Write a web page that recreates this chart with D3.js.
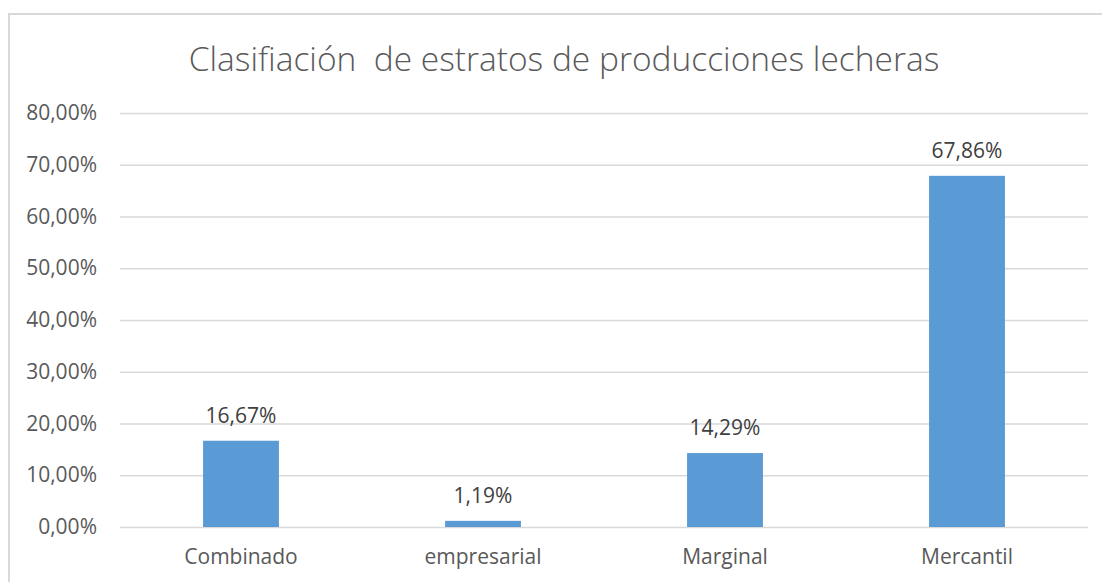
<!DOCTYPE html>
<html>
<head>
<meta charset="utf-8">
<script src="https://cdn.jsdelivr.net/npm/d3@7"></script>
<style>
  html, body { margin: 0; padding: 0; background: #fff; }
  svg { display: block; }
  text { font-family: "Open Sans", "Noto Sans", sans-serif; }
</style>
</head>
<body>
<svg id="chart" width="1102" height="582"></svg>
<script>
const titleText = "Clasifiación  de estratos de producciones lecheras";
const categories = ["Combinado", "empresarial", "Marginal", "Mercantil"];
const values = [0.1667, 0.0119, 0.1429, 0.6786];
const tickValues = [0, 0.1, 0.2, 0.3, 0.4, 0.5, 0.6, 0.7, 0.8];

const W = 1102, H = 582;
const plot = { left: 120, right: 1088, top: 113, bottom: 527 };

const svg = d3.select("#chart");
const locale = d3.formatLocale({ decimal: ",", thousands: ".", grouping: [3], currency: ["", "€"] });
const pct = locale.format(".2%");

// outer chart border (extends past the picture at right and bottom)
svg.append("rect")
  .attr("x", 9).attr("y", 14)
  .attr("width", W + 20).attr("height", H + 20)
  .attr("fill", "none").attr("stroke", "#d9d9d9").attr("stroke-width", 2);

const gap = 2.19;
const p = 1 - 1 / (1 + gap);
const x = d3.scaleBand().domain(categories).range([plot.left, plot.right])
  .paddingInner(p).paddingOuter(p / 2);
const y = d3.scaleLinear().domain([0, 0.8]).range([plot.bottom, plot.top]);

// title
svg.append("text")
  .attr("x", 564).attr("y", 71)
  .attr("text-anchor", "middle")
  .attr("font-size", 33.5).attr("font-weight", 300)
  .attr("fill", "#595959")
  .attr("xml:space", "preserve")
  .style("white-space", "pre")
  .text(titleText);

// y axis (grid + labels)
const yAxis = d3.axisLeft(y).tickValues(tickValues).tickFormat(pct)
  .tickSize(-(plot.right - plot.left)).tickPadding(23);
const gy = svg.append("g").attr("transform", `translate(${plot.left},0)`).call(yAxis);
gy.select(".domain").remove();
gy.selectAll(".tick line").attr("stroke", "#d9d9d9").attr("stroke-width", 1.3);
gy.selectAll(".tick text").attr("fill", "#595959").attr("font-size", 21)
  .attr("font-family", "Open Sans");

// bars
svg.append("g").selectAll("rect").data(values).join("rect")
  .attr("x", (d, i) => x(categories[i]))
  .attr("width", x.bandwidth())
  .attr("y", d => y(d))
  .attr("height", d => y(0) - y(d))
  .attr("fill", "#5b9bd5");

// data labels
svg.append("g").selectAll("text").data(values).join("text")
  .attr("x", (d, i) => x(categories[i]) + x.bandwidth() / 2)
  .attr("y", d => y(d) - 18)
  .attr("text-anchor", "middle")
  .attr("font-size", 21)
  .attr("fill", "#404040")
  .text(d => pct(d));

// x axis labels
const xAxis = d3.axisBottom(x).tickSize(0).tickPadding(0);
const gx = svg.append("g").attr("transform", `translate(0,${plot.bottom})`).call(xAxis);
gx.select(".domain").remove();
gx.selectAll(".tick text").attr("fill", "#595959").attr("font-size", 21)
  .attr("font-family", "Open Sans").attr("dy", null).attr("y", 37);
</script>
</body>
</html>
